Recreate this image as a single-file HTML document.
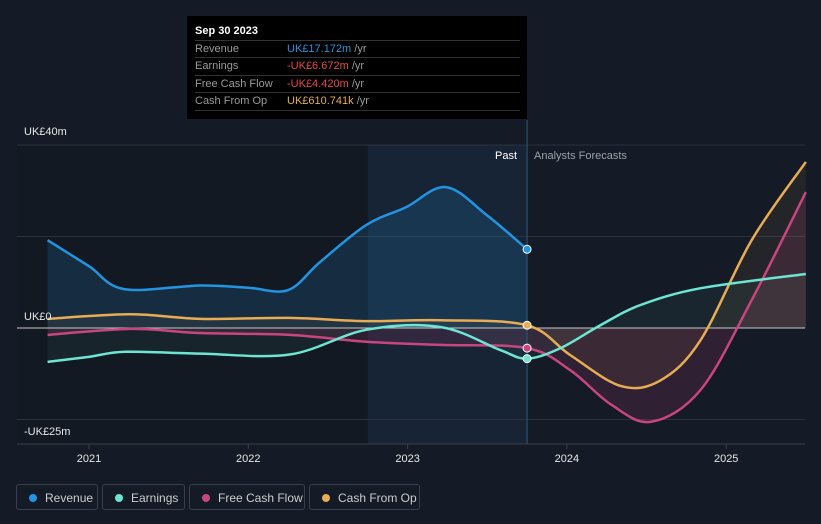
<!DOCTYPE html>
<html><head><meta charset="utf-8"><style>
body{margin:0;background:#151b26;font-family:"Liberation Sans",sans-serif;}
#wrap{position:relative;width:821px;height:524px;overflow:hidden;background:#151b26;}
.lbl{position:absolute;color:#e6e6e6;font-size:11px;}
#tip{position:absolute;left:187px;top:16px;width:340px;height:103px;background:#000;}
#tip .t{position:absolute;left:8px;top:9px;color:#fff;font-size:11px;font-weight:bold;}
#tip .row{position:absolute;left:8px;width:325px;border-top:1px solid #333;height:17px;font-size:11px;line-height:17px;}
#tip .row span.k{color:#999;position:absolute;left:0;}
#tip .row span.v{position:absolute;left:92px;}
.leg{position:absolute;top:484px;height:26px;border:1px solid #3a404b;border-radius:3px;color:#ccc;font-size:12px;line-height:26px;box-sizing:border-box;}
.leg i{position:absolute;left:12px;top:9px;width:8px;height:8px;border-radius:50%;}
.leg span{position:absolute;left:28px;}
</style></head><body>
<div id="wrap">
<svg id="svg" width="821" height="524" style="position:absolute;left:0;top:0"></svg>
<div class="lbl" style="left:24px;top:126px">UK£40m</div>
<div class="lbl" style="left:24px;top:311px">UK£0</div>
<div class="lbl" style="left:24px;top:426px">-UK£25m</div>
<div class="lbl" style="left:495px;top:150px;color:#fff">Past</div>
<div class="lbl" style="left:534px;top:150px;color:#9aa0a8">Analysts Forecasts</div>
<div id="tip">
<div class="t">Sep 30 2023</div>
<div class="row" style="top:24px"><span class="k">Revenue</span><span class="v" style="color:#2394df">UK£17.172m <span style="color:#999">/yr</span></span></div>
<div class="row" style="top:41px"><span class="k">Earnings</span><span class="v" style="color:#e64646">-UK£6.672m <span style="color:#999">/yr</span></span></div>
<div class="row" style="top:59px"><span class="k">Free Cash Flow</span><span class="v" style="color:#e64646">-UK£4.420m <span style="color:#999">/yr</span></span></div>
<div class="row" style="top:76px;border-bottom:1px solid #333"><span class="k">Cash From Op</span><span class="v" style="color:#e8ac55">UK£610.741k <span style="color:#999">/yr</span></span></div>
</div>
<div class="leg" style="left:16px;width:82px"><i style="background:#2394df"></i><span>Revenue</span></div>
<div class="leg" style="left:102px;width:83px"><i style="background:#6ee5d3"></i><span>Earnings</span></div>
<div class="leg" style="left:189px;width:116px"><i style="background:#c8457f"></i><span>Free Cash Flow</span></div>
<div class="leg" style="left:309px;width:111px"><i style="background:#e8ac55"></i><span>Cash From Op</span></div>
</div>
<script>
const revT=[2020.74,2021.0,2021.22,2021.7,2022.0,2022.25,2022.45,2022.74,2022.99,2023.24,2023.5,2023.75];
const revV=[19.2,13.5,8.5,9.3,8.8,8.3,14.4,22.5,26.4,30.8,24.6,17.2];
const earnT=[2020.74,2021.0,2021.23,2021.7,2022.26,2022.74,2023.21,2023.58,2023.75,2023.96,2024.21,2024.46,2024.84,2025.5];
const earnV=[-7.4,-6.3,-5.2,-5.6,-5.8,-0.4,0.2,-4.8,-6.7,-4.4,0.6,5,8.7,11.8];
const fcfT=[2020.74,2021.26,2021.7,2022.26,2022.74,2023.21,2023.75,2024.02,2024.28,2024.53,2024.84,2025.16,2025.5];
const fcfV=[-1.5,-0.2,-1.1,-1.5,-3,-3.7,-4.4,-9.2,-16.8,-20.5,-13.5,6.1,29.7];
const cfoT=[2020.74,2021.26,2021.7,2022.26,2022.74,2023.21,2023.75,2024.02,2024.34,2024.59,2024.84,2025.16,2025.5];
const cfoV=[2,3,2,2.2,1.5,1.7,0.6,-5.9,-12.7,-11.4,-2.6,19.2,36.3];
const xTicks=[2021,2022,2023,2024,2025];
const NS='http://www.w3.org/2000/svg';
const svg=document.getElementById('svg');
const X=t=>89+(t-2021)*159.3, Y=v=>328-v*4.575;
function el(tag,a,p){const e=document.createElementNS(NS,tag);for(const k in a)e.setAttribute(k,a[k]);(p||svg).appendChild(e);return e;}
function path(T,V){const P=T.map((t,i)=>[X(t),Y(V[i])]);let d='M'+P[0][0]+','+P[0][1];for(let i=0;i<P.length-1;i++){const p0=P[Math.max(0,i-1)],p1=P[i],p2=P[i+1],p3=P[Math.min(P.length-1,i+2)];const c1=[p1[0]+(p2[0]-p0[0])/6,p1[1]+(p2[1]-p0[1])/6],c2=[p2[0]-(p3[0]-p1[0])/6,p2[1]-(p3[1]-p1[1])/6];d+=' C'+c1[0]+','+c1[1]+' '+c2[0]+','+c2[1]+' '+p2[0]+','+p2[1];}return d;}
const pastX=X(2023.75);
el('rect',{x:17,y:145,width:X(2022.75)-17,height:299,fill:'#131923'});
el('rect',{x:X(2022.75),y:145,width:pastX-X(2022.75),height:299,fill:'#172436'});
[40,20,-20].forEach(v=>{const l=el('line',{x1:17,x2:805,y1:Y(v),y2:Y(v),stroke:'#2b313c','stroke-width':1});});
el('line',{x1:17,x2:805,y1:444,y2:444,stroke:'#3a404b'});
xTicks.forEach(t=>{el('line',{x1:X(t),x2:X(t),y1:444,y2:449,stroke:'#3a404b'});const tx=el('text',{x:X(t),y:462,fill:'#e6e6e6','font-size':11,'text-anchor':'middle','font-family':'Liberation Sans'});tx.textContent=t;});
function area(T,V,fill,op){const d=path(T,V)+' L'+X(T[T.length-1])+','+Y(0)+' L'+X(T[0])+','+Y(0)+' Z';el('path',{d:d,fill:fill,'fill-opacity':op});}
area(revT,revV,'#2394df',0.16);
area(earnT,earnV,'#6ee5d3',0.06);
area(fcfT,fcfV,'#c8457f',0.15);
area(cfoT,cfoV,'#e8ac55',0.07);
el('line',{x1:17,x2:805,y1:Y(0),y2:Y(0),stroke:'#c8c8c8','stroke-width':1});
el('line',{x1:pastX,x2:pastX,y1:120,y2:444,stroke:'#2a5a80','stroke-width':1});
function line(T,V,c,name){const p=el('path',{d:path(T,V),fill:'none',stroke:c,'stroke-width':2.5});}
line(fcfT,fcfV,'#c8457f','fcf-line');
line(cfoT,cfoV,'#e8ac55','cfo-line');
line(earnT,earnV,'#6ee5d3','earnings-line');
line(revT,revV,'#2394df','revenue-line');
[[revV,revT,'#2394df'],[earnV,earnT,'#6ee5d3'],[fcfV,fcfT,'#c8457f'],[cfoV,cfoT,'#e8ac55']].forEach(([V,T,c])=>{const i=T.indexOf(2023.75);const d=el('circle',{cx:X(T[i]),cy:Y(V[i]),r:4,fill:c,stroke:'#fff','stroke-width':1});});
</script>
</body></html>
